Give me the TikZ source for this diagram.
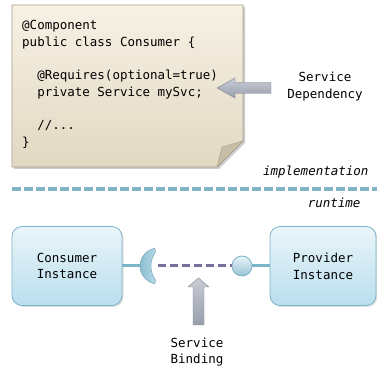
\documentclass[tikz,border=0pt]{standalone}
\usepackage{fontspec}
\setmonofont{DejaVu Sans Mono}
\usetikzlibrary{shadows}

\definecolor{noteTop}{RGB}{247,241,229}
\definecolor{noteBottom}{RGB}{226,216,194}
\definecolor{noteBorder}{RGB}{168,156,134}
\definecolor{noteFold}{RGB}{200,190,168}
\definecolor{boxTop}{RGB}{234,245,250}
\definecolor{boxBottom}{RGB}{186,222,237}
\definecolor{boxBorder}{RGB}{124,180,200}
\definecolor{tierLine}{RGB}{130,180,198}
\definecolor{bindLine}{RGB}{118,114,158}
\definecolor{arrowTop}{RGB}{200,204,212}
\definecolor{arrowBottom}{RGB}{152,158,172}
\definecolor{arrowBorder}{RGB}{128,135,150}

\begin{document}
\begin{tikzpicture}[x=1pt, y=1pt, align=center,
    font=\ttfamily\fontsize{12.5}{16.7}\selectfont,
    instance/.style={draw=boxBorder, thick, rounded corners=10pt,
      top color=boxTop, bottom color=boxBottom, minimum width=110pt,
      minimum height=79pt, drop shadow={opacity=0.25, shadow xshift=1.5pt, shadow yshift=-1.5pt}},
    blockarrow/.style={draw=arrowBorder, top color=arrowTop, bottom color=arrowBottom, line join=round},
    tier/.style={font=\ttfamily\itshape\fontsize{12.5}{15}\selectfont}]
  \useasboundingbox (0,0) rectangle (377,366);

  % the sticky note with the source code
  \fill[black, opacity=0.2] (14,359) -- (245,359) -- (245,223) -- (219,197) -- (14,197) -- cycle;
  \draw[noteBorder, thick, top color=noteTop, bottom color=noteBottom]
    (12,361) -- (243,361) -- (243,225) -- (217,199) -- (12,199) -- cycle;
  \draw[noteBorder, fill=noteFold, line join=round] (243,225) -- (222,219) -- (217,199) -- cycle;
  \node[anchor=north west, align=left, inner sep=0] (code) at (22,346)
    {@Component\\
     public class Consumer \{\\
     \mbox{}\\
     \ \ @Requires(optional=true)\\
     \ \ private Service mySvc;\\
     \mbox{}\\
     \ \ //...\\
     \}};

  % arrow to the annotated field
  \node (dep) at (325,279.5) {Service\\Dependency};
  \draw[blockarrow] (217,278) -- (235,288) -- (235,283.5) -- (271,283.5)
    -- (271,272.5) -- (235,272.5) -- (235,268) -- cycle;

  % implementation / runtime split
  \node[tier, anchor=east] (impl) at (372,194) {implementation};
  \draw[tierLine, line width=3.5pt, dash pattern=on 9pt off 3pt] (12,177) -- (377,177);
  \node[tier, anchor=east] (run) at (364,163) {runtime};

  % component instances
  \node[instance] (cons) at (67,100) {Consumer\\Instance};
  \node[instance, minimum width=106pt] (prov) at (323,100) {Provider\\Instance};

  \coordinate (socket) at (141,100);
  \node[circle, draw=boxBorder, thick, top color=boxTop, bottom color=boxBorder!80,
    minimum size=20pt, inner sep=0] (ball) at (242,100) {};

  \draw[boxBorder, line width=3pt] (cons.east) -- (socket);
  \draw[boxBorder, line width=3pt] (ball.east) -- (prov.west);
  % the socket half of the lollipop
  \draw[boxBorder!85!black, left color=boxBorder!90, right color=boxBottom, line join=round]
    (158,100) ++(100:18) arc[start angle=100, end angle=260, radius=18]
    -- ++(0.6,3.7) arc[start angle=215.7, end angle=144.3, radius=24] -- cycle;
  \coordinate (plug) at (158,100);
  \draw[bindLine, line width=3pt, dash pattern=on 8pt off 4pt] (plug) -- (ball.west);

  % arrow to the binding
  \draw[blockarrow] (198.5,88) -- (209,79) -- (204,79) -- (204,41)
    -- (193,41) -- (193,79) -- (188,79) -- cycle;
  \node (bind) at (197,14) {Service\\Binding};
\end{tikzpicture}
\end{document}
